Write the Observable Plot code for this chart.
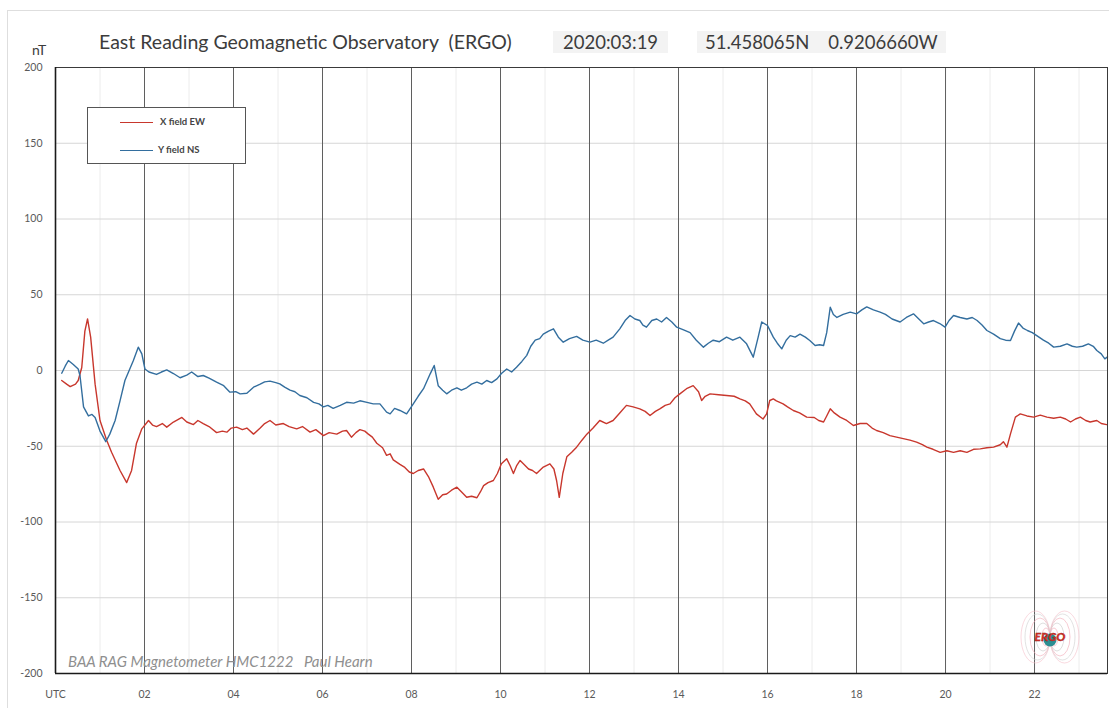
<!DOCTYPE html>
<html>
<head>
<meta charset="utf-8">
<script src="https://cdn.jsdelivr.net/npm/d3@7"></script>
<script src="https://cdn.jsdelivr.net/npm/@observablehq/plot@0.6"></script>
<style>
  html, body { margin:0; padding:0; background:#fff; }
  body { width:1109px; height:708px; overflow:hidden; position:relative; font-family: Lato, "Open Sans", sans-serif; }
  #outer { position:absolute; left:7px; top:10px; width:1110px; height:710px; border-left:1px solid #dedede; border-top:1px solid #dedede; box-sizing:border-box; }
  #chart { position:absolute; left:0; top:0; }
  .t { position:absolute; white-space:pre; color:#3c3c3c; }
  .hl { background:#f3f3f3; }
  #legend { position:absolute; left:87px; top:107px; width:159px; height:57px; border:1px solid #555; box-sizing:border-box; background:#fff; }
  .lg-line { position:absolute; height:0; border-top:1.2px solid; }
  .lg-text { position:absolute; font-size:9.5px; font-weight:700; color:#444; white-space:pre; line-height:12px; }
</style>
</head>
<body>
<div id="outer"></div>
<div id="chart"></div>
<div class="t" style="left:32px; top:41px; font-size:14px; line-height:18px;">nT</div>
<div class="t" style="left:99px; top:31px; font-size:19.5px; line-height:22px;">East Reading Geomagnetic Observatory  (ERGO)</div>
<div class="t hl" style="left:553px; top:31px; font-size:18.5px; line-height:22px; padding:0 10px;">2020:03:19</div>
<div class="t hl" style="left:697px; top:31px; font-size:18.5px; line-height:22px; padding:0 8px;">51.458065N    0.9206660W</div>
<div class="t" style="left:68px; top:652px; font-size:15px; line-height:18px; font-style:italic; color:#8f8f8f;">BAA RAG Magnetometer HMC1222   Paul Hearn</div>
<div id="legend">
  <div class="lg-line" style="left:32px; width:33px; top:14px; border-color:#c8372d;"></div>
  <div class="lg-text" style="left:72px; top:8px;">X field EW</div>
  <div class="lg-line" style="left:32px; width:33px; top:42px; border-color:#336e9e;"></div>
  <div class="lg-text" style="left:70px; top:36px;">Y field NS</div>
</div>
<svg id="logo" width="70" height="70" style="position:absolute; left:1015px; top:602px;" viewBox="-35 -35 70 70">
  <g fill="none" stroke-width="0.6">
    <ellipse cx="-4" cy="0" rx="4" ry="9" stroke="#f2a7b5"/>
    <ellipse cx="4" cy="0" rx="4" ry="9" stroke="#f2a7b5"/>
    <ellipse cx="-7" cy="0" rx="7" ry="14" stroke="#c8c8c8"/>
    <ellipse cx="7" cy="0" rx="7" ry="14" stroke="#c8c8c8"/>
    <ellipse cx="-10" cy="0" rx="10" ry="19" stroke="#f2a7b5"/>
    <ellipse cx="10" cy="0" rx="10" ry="19" stroke="#f2a7b5"/>
    <ellipse cx="-12.5" cy="0" rx="12.5" ry="23" stroke="#cfcfcf"/>
    <ellipse cx="12.5" cy="0" rx="12.5" ry="23" stroke="#cfcfcf"/>
    <ellipse cx="-14.5" cy="0" rx="14.5" ry="26" stroke="#f5c0ca"/>
    <ellipse cx="14.5" cy="0" rx="14.5" ry="26" stroke="#f5c0ca"/>
  </g>
  <circle cx="0" cy="3" r="6.5" fill="#2c8e92"/>
  <text x="0" y="4" text-anchor="middle" font-family="Lato, sans-serif" font-size="12" font-weight="900" font-style="italic" fill="#d8342c" stroke="#8a1a14" stroke-width="0.3">ERGO</text>
</svg>
<script>
// X field EW (red) — hours UTC and nT
const xFieldHours = [0.14,0.25,0.33,0.45,0.51,0.59,0.66,0.72,0.79,0.89,1.0,1.15,1.26,1.45,1.6,1.71,1.82,1.94,2.09,2.18,2.27,2.4,2.5,2.65,2.84,2.95,3.1,3.2,3.32,3.45,3.62,3.75,3.85,3.95,4.07,4.2,4.3,4.45,4.6,4.7,4.82,4.95,5.12,5.25,5.42,5.55,5.72,5.85,6.02,6.15,6.32,6.45,6.54,6.65,6.75,6.84,6.95,7.03,7.12,7.22,7.35,7.44,7.52,7.59,7.74,7.85,7.95,8.04,8.15,8.27,8.38,8.49,8.6,8.7,8.79,8.9,9.02,9.12,9.24,9.35,9.47,9.55,9.62,9.72,9.84,9.93,10.02,10.14,10.22,10.29,10.36,10.44,10.53,10.63,10.72,10.81,10.95,11.11,11.2,11.26,11.32,11.4,11.49,11.6,11.71,11.83,11.94,12.08,12.23,12.38,12.53,12.68,12.83,12.98,13.13,13.25,13.36,13.48,13.58,13.7,13.81,13.92,14.03,14.18,14.33,14.45,14.52,14.6,14.71,14.9,15.08,15.25,15.38,15.5,15.6,15.75,15.9,15.98,16.05,16.13,16.2,16.35,16.45,16.58,16.72,16.88,17.05,17.15,17.26,17.33,17.41,17.5,17.63,17.78,17.93,18.08,18.23,18.35,18.45,18.6,18.75,18.9,19.05,19.2,19.35,19.48,19.58,19.72,19.88,20.03,20.18,20.33,20.48,20.63,20.78,20.93,21.08,21.23,21.3,21.38,21.46,21.57,21.68,21.83,21.98,22.13,22.28,22.43,22.58,22.7,22.81,22.92,23.03,23.15,23.25,23.4,23.5,23.62];
const xFieldValues = [-6.6,-9,-10.6,-9,-6.6,2,26,34,22,-9,-33,-46,-54,-66,-74,-66,-48,-38.5,-33,-36,-37,-35,-37.4,-34,-31,-34,-35.7,-33,-35,-37,-41,-40,-40.7,-38,-37.4,-39,-38,-42,-38,-35,-33,-36,-35,-37,-38.5,-37,-40.7,-39,-43,-41,-42,-40,-39.6,-44,-41,-39,-40,-42,-44,-48,-51,-56,-55,-59,-62,-64,-67,-68,-66,-65,-70,-77,-85,-82,-81.5,-79,-77,-80,-83.7,-83,-84,-80,-76,-74,-72.6,-68,-61.6,-58.3,-63,-68,-63,-59.4,-62,-65,-66,-68,-64,-61.6,-65,-72.6,-83.7,-68,-57,-54,-50.6,-46,-42,-38,-33,-35,-33,-28,-23,-24,-25.3,-27,-29.7,-27,-25.3,-23,-22,-18,-15.4,-12,-10,-14,-19.8,-17,-15.4,-16,-16.5,-17,-18.7,-20,-22,-28.6,-32,-28.6,-19.8,-18.7,-20,-22,-24,-26.4,-28,-30.8,-31,-33,-34,-30,-25.3,-28,-30.8,-33,-36.3,-35,-35,-38,-39.6,-41,-43,-44,-45,-46,-47.3,-49,-50.6,-52,-54,-53,-54,-53,-54,-52,-51.7,-51,-50.6,-49,-47,-50.6,-41.8,-30.8,-28.6,-30,-30.8,-29.5,-30.8,-31.5,-30.8,-32,-34,-32,-30.8,-33,-34,-33,-35,-35.7];

// Y field NS (blue) — hours UTC and nT
const yFieldHours = [0.14,0.22,0.29,0.4,0.51,0.55,0.63,0.74,0.82,0.89,1.0,1.13,1.22,1.34,1.45,1.56,1.75,1.86,1.94,2.01,2.1,2.27,2.38,2.5,2.65,2.8,2.95,3.06,3.2,3.32,3.45,3.62,3.78,3.92,4.05,4.15,4.3,4.45,4.6,4.7,4.82,4.95,5.04,5.15,5.27,5.38,5.49,5.65,5.8,5.92,6.02,6.12,6.24,6.4,6.54,6.7,6.84,7.0,7.14,7.29,7.44,7.52,7.62,7.74,7.89,8.04,8.15,8.27,8.42,8.51,8.6,8.7,8.79,8.9,9.02,9.12,9.24,9.35,9.47,9.58,9.69,9.8,9.92,10.02,10.14,10.25,10.36,10.48,10.59,10.68,10.78,10.88,10.96,11.08,11.19,11.3,11.41,11.55,11.71,11.85,12.01,12.15,12.31,12.42,12.53,12.68,12.8,12.91,13.02,13.13,13.2,13.28,13.4,13.51,13.62,13.73,13.85,13.96,14.1,14.26,14.4,14.56,14.67,14.78,14.92,15.08,15.22,15.38,15.53,15.68,15.79,15.87,16.0,16.13,16.22,16.32,16.42,16.51,16.62,16.73,16.85,16.95,17.07,17.17,17.26,17.33,17.41,17.48,17.56,17.7,17.86,18.0,18.12,18.23,18.38,18.53,18.65,18.8,18.98,19.12,19.28,19.4,19.51,19.62,19.73,19.87,19.99,20.08,20.18,20.33,20.48,20.6,20.71,20.82,20.93,21.08,21.23,21.35,21.46,21.55,21.64,21.74,21.84,21.95,22.05,22.2,22.32,22.43,22.58,22.73,22.85,22.95,23.08,23.21,23.32,23.4,23.5,23.58,23.64];
const yFieldValues = [-1.8,3,6.6,4,1,-3.3,-24,-30,-29,-31,-40,-47,-42,-33,-20,-6.6,6.6,15.4,11,1,-1,-2.6,-1,0.4,-2,-4.8,-3,-1,-4,-3.3,-5,-7.7,-10,-14.3,-14,-15.4,-15,-11,-9,-7.5,-7,-8,-8.8,-11,-13,-14,-16.5,-18,-21,-22,-24,-23,-25,-23,-21,-21.5,-20,-21,-22,-22,-27.5,-28.6,-25,-26.4,-28.6,-22,-17,-12,-2.2,3.3,-10,-13,-15.4,-13,-11.4,-13,-11.4,-9,-7.7,-9,-6.6,-8,-5.5,-2,1,-1,2.2,6,10,16,20,21,24,26,27.5,22,18.7,21,22.5,20,18.7,20,18,20,22,27.5,33,36.3,34,33,30,28.6,33,34,32,35,32,28.6,27,25,20,15.4,18,20,19,22,20,22,17.6,8.8,22,32,29.7,22,18,14.3,20,23,22,24,22,19.8,16.5,17,16.5,25,41.8,37,35,37,38.5,37.4,40,42,40,38.5,37,34,32,35,37.4,34,30.8,32,33,31,28.6,33,36.3,35,34,35,33,30,26.4,24,21,20,19.8,26,31.3,28,26.4,25,23,20,18,15.4,16,17.6,16,15.4,16,17.6,16,13.2,11,7.7,9];

const hourTicks = [0,2,4,6,8,10,12,14,16,18,20,22];
const majorGridHours = [2,4,6,8,10,12,14,16,18,20,22];
const minorGridHours = [1,3,5,7,9,11,13,15,17,19,21,23];
const yTicks = [-200,-150,-100,-50,0,50,100,150,200];
const yGrid = [-150,-100,-50,0,50,100,150];

const xData = xFieldHours.map((h, i) => ({h, v: xFieldValues[i]}));
const yData = yFieldHours.map((h, i) => ({h, v: yFieldValues[i]}));

const chart = Plot.plot({
  width: 1109,
  height: 708,
  marginLeft: 55,
  marginRight: 2,
  marginTop: 67,
  marginBottom: 35,
  style: {fontFamily: "Lato, 'Open Sans', sans-serif", background: "transparent", overflow: "visible"},
  x: {domain: [0, 23.64]},
  y: {domain: [-200, 200]},
  marks: [
    Plot.ruleX(minorGridHours, {stroke: "#ececec", strokeWidth: 1}),
    Plot.ruleY(yGrid, {stroke: "#d6d6d6", strokeWidth: 1}),
    Plot.ruleX(majorGridHours, {stroke: "#5f5f5f", strokeWidth: 1}),
    Plot.line(xData, {x: "h", y: "v", stroke: "#c8372d", strokeWidth: 1.4, curve: "linear"}),
    Plot.line(yData, {x: "h", y: "v", stroke: "#336e9e", strokeWidth: 1.4, curve: "linear"}),
    Plot.frame({stroke: "#3a3a3a", strokeWidth: 1}),
    Plot.ruleX([0], {stroke: "#1a1a1a", strokeWidth: 1.6}),
    Plot.ruleY([-200], {stroke: "#1a1a1a", strokeWidth: 1.6}),
    Plot.axisX({ticks: hourTicks, tickSize: 0, tickPadding: 17, fontSize: 10.5, fill: "#5a5a5a",
      tickFormat: d => d === 0 ? "UTC" : String(d).padStart(2, "0"), label: null}),
    Plot.axisY({ticks: yTicks, tickSize: 0, tickPadding: 13, fontSize: 10.5, fill: "#5a5a5a",
      tickFormat: d => String(d), label: null})
  ]
});
document.getElementById("chart").appendChild(chart);
</script>
</body>
</html>
